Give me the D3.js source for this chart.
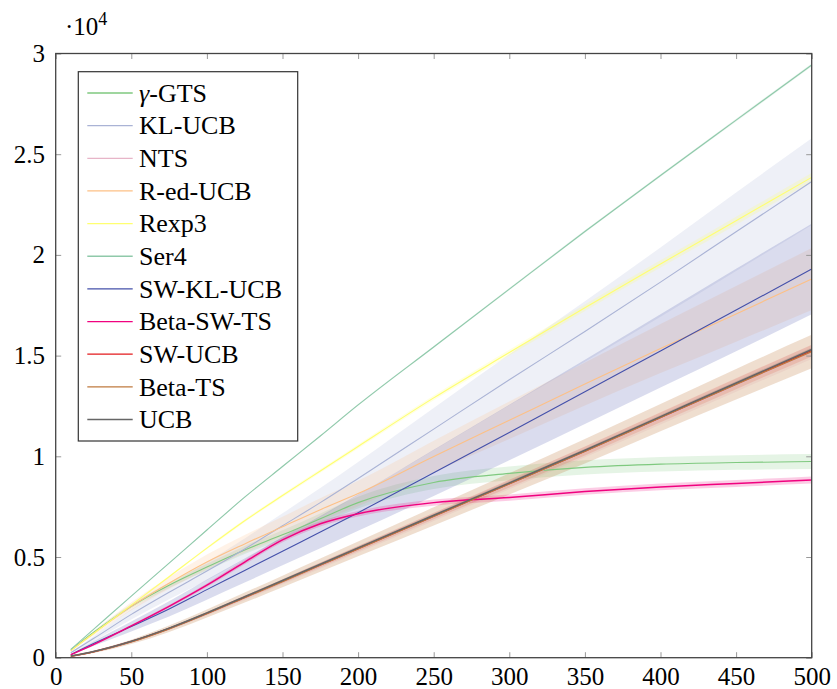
<!DOCTYPE html>
<html>
<head>
<meta charset="utf-8">
<script src="https://cdn.jsdelivr.net/npm/d3@7"></script>
<style>
  body { margin: 0; background: #fff; }
  svg, svg text { font-family: "Liberation Serif", "Tinos", "Times New Roman", "DejaVu Serif", serif; fill: #000; }
  .axis .domain { display: none; }
  .axis line { stroke: #999; }
</style>
</head>
<body>
<svg id="chart"></svg>
<script>
var serif = "'Liberation Serif', 'Tinos', 'Times New Roman', 'DejaVu Serif', serif";

// sample points on the x axis
var xValues = [10, 25, 50, 75, 100, 125, 150, 175, 200, 250, 300, 350, 400, 450, 500];

// mean regret curves
var gtsMean   = [380, 1250, 2550, 3600, 4500, 5350, 6100, 6900, 7700, 8700, 9150, 9450, 9610, 9690, 9740];
var klMean    = [250, 950, 2150, 3250, 4300, 5400, 6550, 7700, 8900, 11350, 13800, 16200, 18650, 21150, 23640];
var ntsMean   = [70, 290, 780, 1430, 2180, 2960, 3760, 4570, 5380, 6990, 8600, 10210, 11870, 13530, 15180];
var redMean   = [350, 1200, 2550, 3700, 4750, 5650, 6500, 7350, 8150, 9990, 11790, 13590, 15350, 17070, 18800];
var rexpMean  = [350, 1200, 2610, 4020, 5440, 6800, 8050, 9270, 10490, 12900, 15150, 17380, 19550, 21700, 23850];
var ser4Mean  = [417, 1407, 3057, 4694, 6340, 7970, 9494, 11008, 12550, 15430, 18300, 21160, 23945, 26690, 29430];
var swklMean  = [150, 700, 1550, 2420, 3380, 4330, 5290, 6240, 7200, 9180, 11180, 13200, 15230, 17260, 19300];
var bswtsMean = [150, 650, 1580, 2550, 3600, 4750, 5850, 6650, 7150, 7700, 7950, 8250, 8480, 8650, 8820];
var swucbMean = [75, 300, 800, 1450, 2200, 3000, 3800, 4610, 5420, 7035, 8645, 10265, 11935, 13605, 15250];
var betaMean  = [70, 290, 785, 1435, 2190, 2985, 3785, 4595, 5405, 7020, 8630, 10250, 11920, 13580, 15200];
var ucbMean   = [85, 310, 820, 1470, 2225, 3025, 3830, 4640, 5455, 7070, 8680, 10300, 11970, 13640, 15300];

// half-width of the shaded band around each curve
var gtsSpread   = [20, 60, 100, 140, 170, 200, 230, 260, 290, 320, 340, 350, 360, 360, 370];
var klSpread    = [40, 120, 250, 350, 450, 520, 620, 720, 820, 1050, 1270, 1500, 1720, 1950, 2150];
var ntsSpread   = [10, 30, 50, 70, 90, 110, 130, 150, 170, 200, 230, 260, 290, 320, 350];
var redSpread   = [30, 100, 200, 290, 370, 440, 500, 570, 630, 780, 930, 1070, 1220, 1380, 1540];
var rexpSpread  = [5, 15, 30, 45, 60, 70, 80, 90, 100, 120, 140, 160, 180, 200, 220];
var ser4Spread  = [5, 10, 15, 20, 25, 30, 35, 40, 45, 50, 55, 60, 65, 70, 75];
var swklSpread  = [30, 120, 250, 380, 500, 600, 700, 800, 900, 1150, 1380, 1600, 1820, 2050, 2250];
var bswtsSpread = [10, 30, 50, 70, 90, 110, 120, 130, 140, 150, 155, 160, 165, 170, 175];
var swucbSpread = [10, 25, 40, 55, 70, 85, 100, 115, 130, 160, 190, 220, 250, 270, 290];
var betaSpread  = [15, 60, 110, 160, 200, 250, 290, 330, 370, 450, 530, 610, 680, 760, 830];
var ucbSpread   = [5, 10, 20, 30, 40, 50, 55, 60, 65, 70, 75, 80, 85, 90, 95];

var seriesNames = ["γ-GTS", "KL-UCB", "NTS", "R-ed-UCB", "Rexp3", "Ser4", "SW-KL-UCB", "Beta-SW-TS", "SW-UCB", "Beta-TS", "UCB"];

var xTicks = [0, 50, 100, 150, 200, 250, 300, 350, 400, 450, 500];
var yTicks = [0, 5000, 10000, 15000, 20000, 25000, 30000];
var yTickLabels = ["0", "0.5", "1", "1.5", "2", "2.5", "3"];

var colors = ["#7fc97f", "#aab3d5", "#e7b5c8", "#fdc086", "#ffff70", "#8fc9aa",
              "#4450aa", "#f0027f", "#e31a1c", "#bf7a3f", "#666666"];
var bandOpacity = [0.2, 0.2, 0.2, 0.2, 0.2, 0.2, 0.2, 0.2, 0.15, 0.25, 0.2];

var series = [
  [gtsMean, gtsSpread], [klMean, klSpread], [ntsMean, ntsSpread], [redMean, redSpread],
  [rexpMean, rexpSpread], [ser4Mean, ser4Spread], [swklMean, swklSpread],
  [bswtsMean, bswtsSpread], [swucbMean, swucbSpread], [betaMean, betaSpread], [ucbMean, ucbSpread]
].map(function(s, i) {
  return {
    name: seriesNames[i],
    color: colors[i],
    opacity: bandOpacity[i],
    points: xValues.map(function(x, j) {
      return {x: x, y: s[0][j], lo: s[0][j] - s[1][j], hi: s[0][j] + s[1][j]};
    })
  };
});

var W = 837, H = 689;
var margin = {top: 53.5, right: 25.3, bottom: 31.3, left: 55.7},
    width = W - margin.left - margin.right,
    height = H - margin.top - margin.bottom;

var x = d3.scaleLinear().domain([0, 500]).range([0, width]),
    y = d3.scaleLinear().domain([0, 30000]).range([height, 0]);

var svg = d3.select("#chart")
    .attr("width", W)
    .attr("height", H)
    .style("font-family", serif)
  .append("g")
    .attr("transform", "translate(" + margin.left + "," + margin.top + ")");

var area = d3.area()
    .curve(d3.curveMonotoneX)
    .x(function(d) { return x(d.x); })
    .y0(function(d) { return y(d.lo); })
    .y1(function(d) { return y(d.hi); });

var line = d3.line()
    .curve(d3.curveMonotoneX)
    .x(function(d) { return x(d.x); })
    .y(function(d) { return y(d.y); });

// bands first, then curves on top
svg.selectAll(".band")
    .data(series)
  .enter().append("path")
    .attr("class", "band")
    .attr("d", function(d) { return area(d.points); })
    .style("fill", function(d) { return d.color; })
    .style("fill-opacity", function(d) { return d.opacity; })
    .style("stroke", "none");

svg.selectAll(".curve")
    .data(series)
  .enter().append("path")
    .attr("class", "curve")
    .attr("d", function(d) { return line(d.points); })
    .style("fill", "none")
    .style("stroke", function(d) { return d.color; })
    .style("stroke-width", function(d, i) { return i >= 7 ? 1.5 : 1.1; });

// axes, ticks pointing inwards on all four sides
svg.append("g")
    .attr("class", "x axis")
    .attr("transform", "translate(0," + height + ")")
    .call(d3.axisBottom(x).tickValues(xTicks).tickSizeInner(-5.5).tickSizeOuter(0).tickPadding(9.5))
  .selectAll("text")
    .style("font-family", serif)
    .style("font-size", "25px");

svg.append("g")
    .attr("class", "x axis")
    .call(d3.axisTop(x).tickValues(xTicks).tickSizeInner(-5.5).tickSizeOuter(0).tickFormat(""));

svg.append("g")
    .attr("class", "y axis")
    .call(d3.axisLeft(y).tickValues(yTicks).tickSizeInner(-5.5).tickSizeOuter(0).tickPadding(10.7)
      .tickFormat(function(d, i) { return yTickLabels[i]; }))
  .selectAll("text")
    .style("font-family", serif)
    .style("font-size", "25px");

svg.append("g")
    .attr("class", "y axis")
    .attr("transform", "translate(" + width + ",0)")
    .call(d3.axisRight(y).tickValues(yTicks).tickSizeInner(-5.5).tickSizeOuter(0).tickFormat(""));

svg.append("rect")
    .attr("width", width)
    .attr("height", height)
    .style("fill", "none")
    .style("stroke", "#444")
    .style("stroke-width", 1.3);

// scale factor label
var exp = svg.append("text")
    .attr("x", 65 - margin.left)
    .attr("y", 35 - margin.top)
    .style("font-family", serif)
    .style("font-size", "25px");
exp.append("tspan").text("·10");
exp.append("tspan").attr("dy", -10).style("font-size", "18px").text("4");

// legend
var legend = svg.append("g")
    .attr("transform", "translate(" + (78.3 - margin.left) + "," + (71.7 - margin.top) + ")");

legend.append("rect")
    .attr("width", 219.4)
    .attr("height", 369.3)
    .style("fill", "#fff")
    .style("stroke", "#333")
    .style("stroke-width", 1.2);

var item = legend.selectAll(".legend")
    .data(series)
  .enter().append("g")
    .attr("class", "legend")
    .attr("transform", function(d, i) { return "translate(0," + (21.3 + i * 32.65) + ")"; });

item.append("line")
    .attr("x1", 9)
    .attr("x2", 54.4)
    .style("stroke", function(d) { return d.color; })
    .style("stroke-width", 1.3);

item.append("text")
    .attr("x", 60.7)
    .attr("y", 8.8)
    .style("font-family", serif)
    .style("font-size", "26px")
    .each(function(d) {
      var t = d3.select(this);
      if (d.name.charAt(0) === "γ") {
        t.append("tspan").style("font-style", "italic").text("γ");
        t.append("tspan").text(d.name.slice(1));
      } else {
        t.text(d.name);
      }
    });
</script>
</body>
</html>
